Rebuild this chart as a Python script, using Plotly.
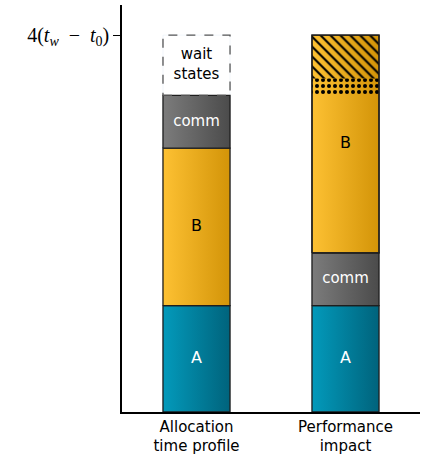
import plotly.graph_objects as go

categories = ["Allocation<br>time profile", "Performance<br>impact"]
# segment heights in units of (t_w - t_0)
a_vals = [1.13, 1.13]
comm_vals = [0.56, 0.56]
b_vals = [1.67, 1.67]          # plain part of B
wait_vals = [0.64]             # wait states (allocation profile only)
b_dots_vals = [0.18]           # impact: dotted part of B
b_hatch_vals = [0.46]          # impact: hatched part of B
ytick_label = "4(<i>t</i><sub><i>w</i></sub>\u2002−\u2002<i>t</i><sub>0</sub>)"

W = 0.45
FONT = "DejaVu Sans"
EDGE = "#1e1e1e"
xpos = [0, 1]
A_SCALE = [[0, "#039abb"], [1, "#00637c"]]
B_SCALE = [[0, "#fdc133"], [1, "#d39408"]]
C_SCALE = [[0, "#7c7c7c"], [1, "#4b4b4b"]]
A_MID, B_MID, C_MID = "#0a7f9c", "#efb023", "#626262"

# bases (computed from data)
left_b_base = a_vals[0]
left_comm_base = a_vals[0] + b_vals[0]
left_wait_base = left_comm_base + comm_vals[0]
right_comm_base = a_vals[1]
right_b_base = a_vals[1] + comm_vals[1]
right_b_total = b_vals[1] + b_dots_vals[0] + b_hatch_vals[0]
right_dots_base = right_b_base + b_vals[1]
right_hatch_base = right_dots_base + b_dots_vals[0]
total = left_wait_base + wait_vals[0]

fig = go.Figure()
# base bar traces (data layer)
fig.add_bar(x=xpos, y=a_vals, base=[0, 0], width=W, marker_color=A_MID)
fig.add_bar(x=[xpos[0]], y=[b_vals[0]], base=[left_b_base], width=W, marker_color=B_MID)
fig.add_bar(x=xpos, y=comm_vals, base=[left_comm_base, right_comm_base], width=W,
            marker_color=C_MID)
fig.add_bar(x=[xpos[0]], y=wait_vals, base=[left_wait_base], width=W, marker_color="white")
fig.add_bar(x=[xpos[1]], y=[right_b_total], base=[right_b_base], width=W, marker_color=B_MID)


def rect(xc, y0, h):
    y1 = y0 + h
    return ([xc - W / 2, xc + W / 2, xc + W / 2, xc - W / 2, xc - W / 2],
            [y0, y0, y1, y1, y0])


segments = [
    (xpos[0], 0, a_vals[0], A_SCALE),
    (xpos[0], left_b_base, b_vals[0], B_SCALE),
    (xpos[0], left_comm_base, comm_vals[0], C_SCALE),
    (xpos[1], 0, a_vals[1], A_SCALE),
    (xpos[1], right_comm_base, comm_vals[1], C_SCALE),
    (xpos[1], right_b_base, right_b_total, B_SCALE),
]
for xc, y0, h, cs in segments:
    xs, ys = rect(xc, y0, h)
    fig.add_scatter(x=xs, y=ys, mode="lines", fill="toself",
                    fillgradient=dict(type="horizontal", colorscale=cs),
                    line=dict(color=EDGE, width=1.3), hoverinfo="skip")

# patterned parts of B in the impact bar
xs, ys = rect(xpos[1], right_dots_base, b_dots_vals[0])
fig.add_scatter(x=xs, y=ys, mode="lines", fill="toself", fillcolor="rgba(0,0,0,0)",
                fillpattern=dict(shape=".", fgcolor="black", bgcolor="rgba(0,0,0,0)",
                                 fgopacity=1, size=6, solidity=0.35),
                line=dict(width=0), hoverinfo="skip")
xs, ys = rect(xpos[1], right_hatch_base, b_hatch_vals[0])
fig.add_scatter(x=xs, y=ys, mode="lines", fill="toself", fillcolor="rgba(0,0,0,0)",
                fillpattern=dict(shape="\\", fgcolor="black", bgcolor="rgba(0,0,0,0)",
                                 fgopacity=1, size=7, solidity=0.3),
                line=dict(width=0), hoverinfo="skip")
# top edge of the impact bar
xs, ys = rect(xpos[1], right_b_base, right_b_total)
fig.add_scatter(x=xs, y=ys, mode="lines", line=dict(color=EDGE, width=1.3), hoverinfo="skip")

# segment labels
lab_x = [xpos[0], xpos[0], xpos[0], xpos[0], xpos[1], xpos[1], xpos[1]]
lab_y = [a_vals[0] / 2, left_b_base + b_vals[0] / 2, left_comm_base + comm_vals[0] / 2,
         left_wait_base + wait_vals[0] / 2, a_vals[1] / 2,
         right_comm_base + comm_vals[1] / 2, right_b_base + right_b_total / 2]
lab_t = ["A", "B", "comm", "wait<br>states", "A", "comm", "B"]
lab_c = ["white", "black", "white", "black", "white", "white", "black"]
lab_s = [16, 16, 15, 15, 16, 15, 16]
fig.add_scatter(x=lab_x, y=lab_y, mode="text", text=lab_t,
                textfont=dict(color=lab_c, size=lab_s, family=FONT), hoverinfo="skip")

# dashed outline of wait states box
fig.add_shape(type="rect", xref="x", yref="y",
              x0=xpos[0] - W / 2, x1=xpos[0] + W / 2, y0=left_wait_base, y1=total,
              line=dict(color="#555555", width=1.3, dash="dash"))

fig.update_layout(
    width=424, height=464, barmode="overlay", showlegend=False,
    margin=dict(l=122, r=4, t=5, b=52),
    plot_bgcolor="white", paper_bgcolor="white",
    font=dict(family=FONT, size=14, color="black"),
)
fig.update_xaxes(range=[-0.5, 1.5], showline=True, linecolor="black", linewidth=1.5,
                 ticks="", showgrid=False, zeroline=False,
                 tickvals=xpos, ticktext=categories, tickfont=dict(size=15, family=FONT))
fig.update_yaxes(range=[0, 4.32], showline=True, linecolor="black", linewidth=1.5,
                 ticks="outside", ticklen=7, tickcolor="black", tickwidth=1.2,
                 tickvals=[total], ticktext=[ytick_label], showgrid=False, zeroline=False,
                 tickfont=dict(size=20, family="Liberation Serif"))

fig.write_html("out.html", config={"displayModeBar": False},
               post_script="document.body.style.margin='0';")
